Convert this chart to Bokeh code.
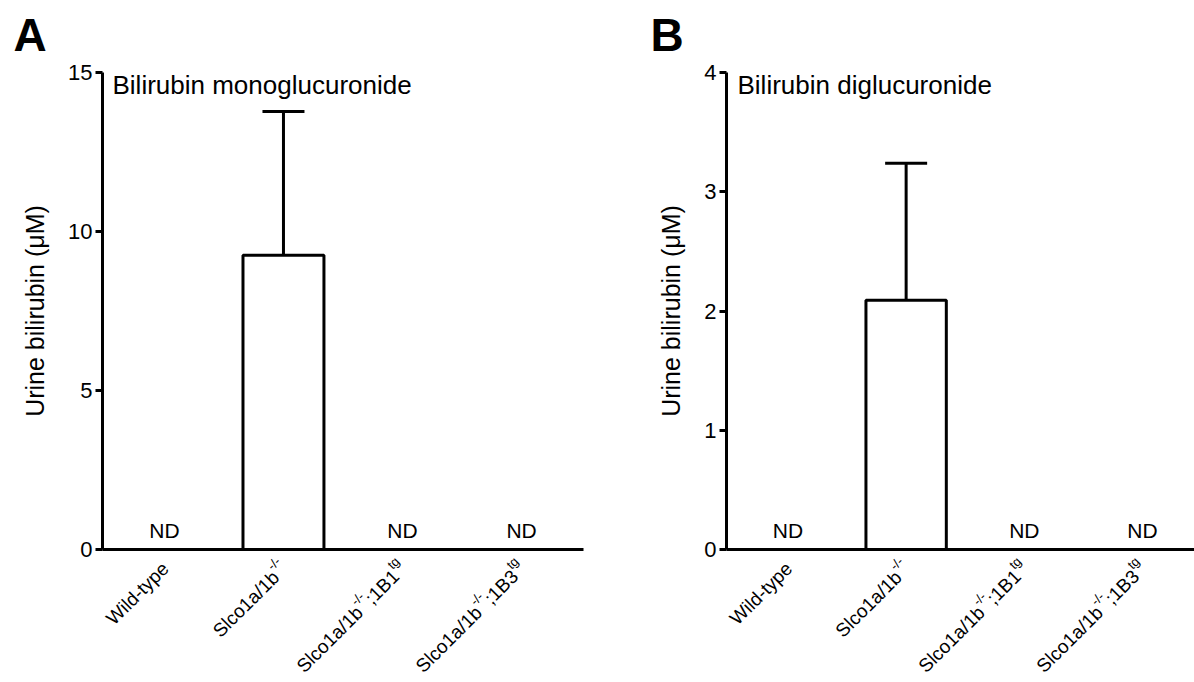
import math
from bokeh.plotting import figure
from bokeh.models import Range1d, ColumnDataSource, Whisker, TeeHead, Label, FixedTicker
from bokeh.layouts import row
from bokeh.core.properties import value
from bokeh.embed import file_html
from bokeh.resources import INLINE

# ---------------- data ----------------
categories = ["Wild-type", "Slco1a/1b-/-", "Slco1a/1b-/-;1B1tg", "Slco1a/1b-/-;1B3tg"]
label_parts = [
    [("Wild-type", False)],
    [("Slco1a/1b", False), ("-/-", True)],
    [("Slco1a/1b", False), ("-/-", True), (";1B1", False), ("tg", True)],
    [("Slco1a/1b", False), ("-/-", True), (";1B3", False), ("tg", True)],
]
mono_mean = [None, 9.25, None, None]
mono_sem = [None, 4.52, None, None]
di_mean = [None, 2.09, None, None]
di_sem = [None, 1.15, None, None]
mono_ticks = [0, 5, 10, 15]
di_ticks = [0, 1, 2, 3, 4]

FONT = "Liberation Sans"
# Arial / Liberation Sans advance widths (per 1000 em) for label layout
ADV = {'S': 667, 'l': 222, 'c': 500, 'o': 556, '1': 556, 'a': 556, '/': 278, 'b': 556,
       '-': 333, ';': 278, 'B': 667, '3': 556, 't': 278, 'g': 556, 'W': 944, 'i': 222,
       'd': 556, 'y': 500, 'p': 556, 'e': 556}


def tw(t, size):
    return sum(ADV.get(ch, 556) for ch in t) / 1000.0 * size


H = 682
FRAME_TOP = 72
FRAME_H = 477


def make_panel(letter, title, means, sems, ymax, ticks, width, bl, br, x_end,
               letter_dx, title_dx):
    p = figure(width=width, height=H,
               x_range=Range1d(-0.52, x_end), y_range=Range1d(0, ymax),
               output_backend="svg", toolbar_location=None,
               min_border_left=bl, min_border_right=br,
               min_border_top=FRAME_TOP, min_border_bottom=H - FRAME_TOP - FRAME_H,
               outline_line_color=None, background_fill_color="white",
               border_fill_color="white")
    p.xgrid.visible = False
    p.ygrid.visible = False

    xs = list(range(len(categories)))
    bx = [x for x, m in zip(xs, means) if m is not None]
    bm = [m for m in means if m is not None]
    be = [m + s for m, s in zip(means, sems) if m is not None]
    src = ColumnDataSource(dict(x=bx, top=bm, upper=be))

    p.add_layout(Whisker(base="x", upper="upper", lower="top", source=src,
                         line_width=3, line_color="black",
                         upper_head=TeeHead(size=42, line_width=3, line_color="black"),
                         lower_head=None))
    p.vbar(x="x", top="top", bottom=0, width=0.68, source=src,
           fill_color="white", line_color="black", line_width=3)

    # ND markers for not-detected groups
    nd_x = [x for x, m in zip(xs, means) if m is None]
    nd = p.text(x=nd_x, y=[0] * len(nd_x), text=["ND"] * len(nd_x),
                text_align="center", text_baseline="alphabetic", y_offset=-19,
                text_font=value(FONT), text_font_size="21px", text_color="black")
    nd.level = "overlay"

    # y axis
    ya = p.yaxis[0]
    ya.ticker = FixedTicker(ticks=ticks)
    ya.minor_tick_line_color = None
    ya.major_tick_in = 0
    ya.major_tick_out = 7
    ya.major_tick_line_width = 3
    ya.axis_line_width = 3
    ya.major_label_text_font = FONT
    ya.major_label_text_font_size = "22px"
    ya.major_label_text_color = "black"
    ya.major_label_standoff = 3
    ya.axis_label = "Urine bilirubin (μM)"
    ya.axis_label_text_font = FONT
    ya.axis_label_text_font_size = "25px"
    ya.axis_label_text_font_style = "normal"
    ya.axis_label_text_color = "black"
    ya.axis_label_standoff = 16

    # x axis: plain line, labels drawn as rich text below
    xa = p.xaxis[0]
    xa.ticker = FixedTicker(ticks=[])
    xa.major_label_text_font_size = "0px"
    xa.major_tick_line_color = None
    xa.minor_tick_line_color = None
    xa.axis_line_width = 3

    FS, SFS, RAISE = 19, 13, 9
    AX, AY = 1, 16
    c = s = math.sqrt(0.5)
    rx, rt, rdx, rdy, rsz = [], [], [], [], []
    for i, parts in enumerate(label_parts):
        d = 0.0
        for text, sup in reversed(parts):
            size = SFS if sup else FS
            r = RAISE if sup else 0
            rx.append(i)
            rt.append(text)
            rdx.append(AX - d * c - r * s)
            rdy.append(AY + d * s - r * c)
            rsz.append(f"{size}px")
            d += tw(text, size)
    lsrc = ColumnDataSource(dict(x=rx, y=[0] * len(rx), text=rt, dx=rdx, dy=rdy, size=rsz))
    lr = p.text(x="x", y="y", text="text", source=lsrc, angle=math.pi / 4,
                text_align="right", text_baseline="alphabetic",
                x_offset="dx", y_offset="dy", text_font_size="size",
                text_font=value(FONT), text_color="black")
    lr.level = "overlay"

    p.add_layout(Label(x=-0.52, y=ymax, x_offset=title_dx, y_offset=-12, text=title,
                       text_baseline="middle", text_align="left",
                       text_font=FONT, text_font_size="26px", text_color="black"))
    lt = p.text(x=[-0.52], y=[ymax], text=[letter], x_offset=letter_dx, y_offset=-38,
                text_baseline="alphabetic", text_align="left",
                text_font=value(FONT), text_font_size="46px", text_font_style="bold",
                text_color="black")
    lt.level = "overlay"
    return p


pA = make_panel("A", "Bilirubin monoglucuronide", mono_mean, mono_sem, 15, mono_ticks,
                width=620, bl=102, br=37, x_end=3.52, letter_dx=-89, title_dx=10)
pB = make_panel("B", "Bilirubin diglucuronide", di_mean, di_sem, 4, di_ticks,
                width=574, bl=106, br=0, x_end=3.44, letter_dx=-76, title_dx=11)

layout = row(pA, pB)
open("out.html", "w").write(file_html(layout, INLINE))
